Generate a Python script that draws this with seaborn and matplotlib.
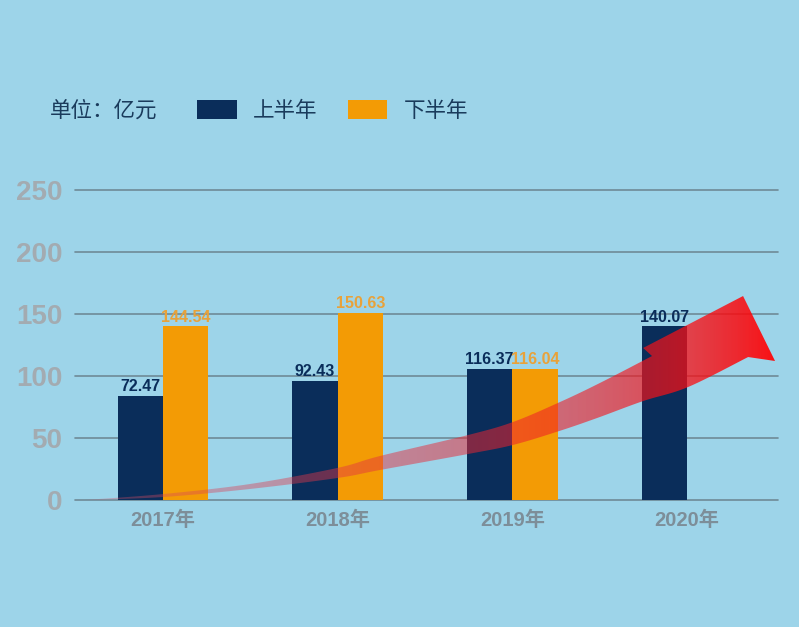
import matplotlib
matplotlib.use('Agg')
import matplotlib.pyplot as plt
from matplotlib.patches import Polygon
import seaborn as sns
import numpy as np
import pandas as pd

sns.set_theme(style='white')
plt.rcParams['font.family'] = ['Liberation Sans', 'Noto Sans CJK SC']

# data
years = ['2017年', '2018年', '2019年', '2020年']
halves = ['上半年', '下半年']
first_half = [84, 96, 105.5, 140]            # bar heights as drawn
second_half = [140, 151, 105.5, np.nan]
first_labels = ['72.47', '92.43', '116.37', '140.07']
second_labels = ['144.54', '150.63', '116.04', '']
y_ticks = [0, 50, 100, 150, 200, 250]

bg = '#9dd4e9'
navy = '#0a2d5a'
orange = '#f39b05'

df = pd.DataFrame({
    'year': years * 2,
    'half': [halves[0]] * 4 + [halves[1]] * 4,
    'value': first_half + second_half,
})


def smooth(pts, n=12):
    # Catmull-Rom through the outline points of the decorative arrow
    p = np.array(pts, dtype=float)
    p = np.vstack([p[0], p, p[-1]])
    out = []
    for i in range(1, len(p) - 2):
        p0, p1, p2, p3 = p[i - 1], p[i], p[i + 1], p[i + 2]
        for t in np.linspace(0, 1, n, endpoint=False):
            t2, t3 = t * t, t * t * t
            out.append(0.5 * ((2 * p1) + (-p0 + p2) * t
                              + (2 * p0 - 5 * p1 + 4 * p2 - p3) * t2
                              + (-p0 + 3 * p1 - 3 * p2 + p3) * t3))
    out.append(p[-2])
    return [tuple(q) for q in out]


fig = plt.figure(figsize=(7.99, 6.27), dpi=100)
fig.patch.set_facecolor(bg)
ax = fig.add_axes([75 / 799, 1 - 500 / 627, 703 / 799, 310 / 627])
ax.set_facecolor(bg)

sns.barplot(data=df, x='year', y='value', hue='half', hue_order=halves,
            palette=[navy, orange], width=0.52, saturation=1, ax=ax,
            legend=True, zorder=2, linewidth=0, edgecolor='none')

ax.set_xlim(-0.504, 3.52)
ax.set_ylim(0, 250)
ax.set_yticks(y_ticks)
ax.set_xlabel('')
ax.set_ylabel('')
for s in ax.spines.values():
    s.set_visible(False)
ax.tick_params(axis='both', length=0)
ax.tick_params(axis='y', pad=9, labelsize=20, labelcolor='#a3abb1')
ax.tick_params(axis='x', pad=8, labelsize=14.5, labelcolor='#7d8e99')
for lbl in ax.get_yticklabels() + ax.get_xticklabels():
    lbl.set_fontweight('bold')
ax.grid(axis='y', color='#6f8a97', linewidth=1.2)
ax.grid(axis='x', visible=False)
for gl in ax.get_ygridlines():
    gl.set_clip_on(False)
ax.set_axisbelow(True)

# value labels
xs = np.arange(len(years))
for i, (h, t) in enumerate(zip(first_half, first_labels)):
    ax.text(xs[i] - 0.13, h + 1.5, t, ha='center', va='bottom', fontsize=11.5,
            fontweight='bold', color=navy, zorder=6)
for i, (h, t) in enumerate(zip(second_half, second_labels)):
    if t:
        ax.text(xs[i] + 0.13, h + 1.5, t, ha='center', va='bottom', fontsize=11.5,
                fontweight='bold', color='#e8a23a', zorder=6)

# decorative rising arrow (gradient fill clipped to a polygon)
upper = [(-0.446, 0), (0.0, 4.8), (0.498, 12.9), (0.996, 25.8), (1.242, 35.5),
         (1.746, 52.4), (2.003, 62.9), (2.272, 79.0), (2.501, 94.4),
         (2.799, 116.1)]
head = [(2.748, 122.6), (3.320, 164.5), (3.503, 112.1)]
lower = [(3.349, 115.3), (3.005, 91.1), (2.748, 79.8), (2.484, 66.1),
         (2.267, 55.6), (2.003, 44.4), (1.746, 37.1), (1.242, 24.2),
         (0.996, 17.7), (0.498, 8.9), (0.0, 2.4), (-0.446, 0)]
poly = Polygon(smooth(upper) + head + smooth(lower), closed=True,
               facecolor='none', edgecolor='none', transform=ax.transData)
ax.add_patch(poly)

gx = np.linspace(0, 1, 300)
grad = np.zeros((2, 300, 4))
grad[..., 0] = 0.82 + 0.18 * gx
grad[..., 1] = 0.32 - 0.30 * gx
grad[..., 2] = 0.42 - 0.39 * gx
grad[..., 3] = 0.35 + 0.3 * gx + 0.3 * gx ** 6
im = ax.imshow(grad, extent=(-0.45, 3.51, 0, 166), aspect='auto',
               origin='lower', zorder=5, interpolation='bilinear')
im.set_clip_path(poly)
ax.set_xlim(-0.504, 3.52)
ax.set_ylim(0, 250)

# legend
sns.move_legend(ax, loc='center left', bbox_to_anchor=(197 / 799, 1 - 111 / 627),
                bbox_transform=fig.transFigure, ncol=2, frameon=False, title=None,
                fontsize=15.5, handlelength=1.85, handleheight=1.0,
                handletextpad=0.75, columnspacing=1.4, borderpad=0,
                borderaxespad=0)
leg = ax.get_legend()
for t in leg.get_texts():
    t.set_color('#1a3b5c')
for h in leg.legend_handles:
    h.set_edgecolor('none')
fig.text(50 / 799, 1 - 111 / 627, '单位：亿元', ha='left', va='center',
         fontsize=15.5, color='#1a3b5c')

fig.savefig('out.png', dpi=100, facecolor=bg)
